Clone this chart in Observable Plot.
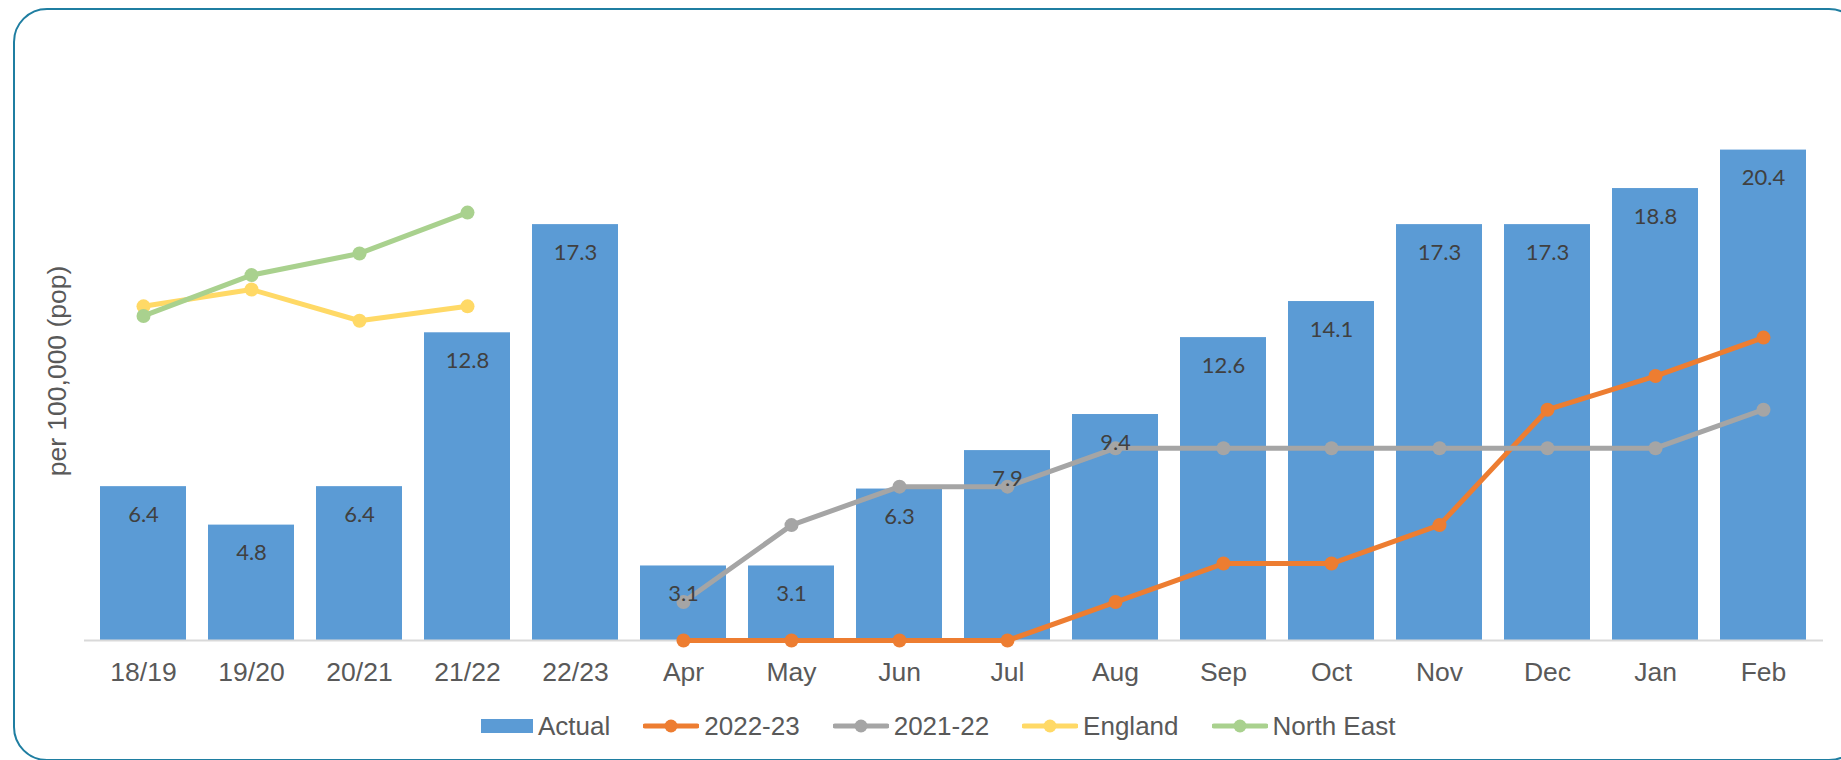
<!DOCTYPE html>
<html>
<head>
<meta charset="utf-8">
<script src="https://cdn.jsdelivr.net/npm/d3@7"></script>
<script src="https://cdn.jsdelivr.net/npm/@observablehq/plot@0.6"></script>
<style>
  html, body { margin: 0; padding: 0; background: #fff; }
  #page { position: relative; width: 1841px; height: 760px; overflow: hidden; font-family: "Liberation Sans", Arial, sans-serif; }
  #frame { position: absolute; left: 13px; top: 8px; width: 1850px; height: 753px; border: 2.5px solid #1f7ea1; border-radius: 34px; box-sizing: border-box; }
  #chart { position: absolute; left: 0; top: 0; }
  #legend { position: absolute; left: 481px; top: 711px; height: 30px; display: flex; align-items: center; font-size: 26px; color: #595959; line-height: 30px; }
  .item { display: flex; align-items: center; margin-right: 33px; }
  .item svg { display: block; margin-right: 5px; }
</style>
</head>
<body>
<div id="page">
  <div id="frame"></div>
  <div id="chart"></div>
  <div id="legend"></div>
</div>
<script>
// ---- data ----
const categories = ["18/19","19/20","20/21","21/22","22/23","Apr","May","Jun","Jul","Aug","Sep","Oct","Nov","Dec","Jan","Feb"];
const actual = [6.4,4.8,6.4,12.8,17.3,3.1,3.1,6.3,7.9,9.4,12.6,14.1,17.3,17.3,18.8,20.4];
const months = ["Apr","May","Jun","Jul","Aug","Sep","Oct","Nov","Dec","Jan","Feb"];
const series2022_23 = [0,0,0,0,1.6,3.2,3.2,4.8,9.6,11.0,12.6];
const series2021_22 = [1.6,4.8,6.4,6.4,8.0,8.0,8.0,8.0,8.0,8.0,9.6];
const years = ["18/19","19/20","20/21","21/22"];
const england = [13.9,14.6,13.3,13.9];
const northEast = [13.5,15.2,16.1,17.8];
const yLabel = "per 100,000 (pop)";

const legendItems = [
  {name: "Actual", color: "#5b9bd5", type: "bar"},
  {name: "2022-23", color: "#ed7d31", type: "line"},
  {name: "2021-22", color: "#a5a5a5", type: "line"},
  {name: "England", color: "#ffd966", type: "line"},
  {name: "North East", color: "#a9d18e", type: "line"}
];

// ---- tables ----
const bars = categories.map((c, i) => ({cat: c, value: actual[i]}));
const s2223 = months.map((m, i) => ({cat: m, value: series2022_23[i]}));
const s2122 = months.map((m, i) => ({cat: m, value: series2021_22[i]}));
const eng = years.map((y, i) => ({cat: y, value: england[i]}));
const ne = years.map((y, i) => ({cat: y, value: northEast[i]}));

const lineSeries = [
  {data: s2223, color: "#ed7d31"},
  {data: s2122, color: "#a5a5a5"},
  {data: eng, color: "#ffd966"},
  {data: ne, color: "#a9d18e"}
];

const marks = [
  Plot.barY(bars, {x: "cat", y: "value", fill: "#5b9bd5"}),
  Plot.ruleY([0], {stroke: "#d9d9d9", strokeWidth: 2})
];
for (const s of lineSeries) {
  marks.push(Plot.line(s.data, {x: "cat", y: "value", stroke: s.color, strokeWidth: 5, strokeLinejoin: "round"}));
  marks.push(Plot.dot(s.data, {x: "cat", y: "value", fill: s.color, r: 7}));
}
marks.push(Plot.text(bars, {x: "cat", y: "value", text: d => d.value.toFixed(1), dy: 28, fill: "#404040", fontFamily: "Lato", fontSize: 22}));
marks.push(Plot.text([yLabel], {frameAnchor: "left", textAnchor: "middle", lineAnchor: "middle", rotate: -90, dx: -27, dy: 31, fill: "#595959", fontSize: 26.5, fontFamily: "Liberation Sans"}));

const chart = Plot.plot({
  width: 1841,
  height: 700,
  marginLeft: 84,
  marginRight: 18,
  marginTop: 39,
  marginBottom: 60,
  x: {type: "band", domain: categories, paddingInner: 0.2, paddingOuter: 0.1, label: null, tickSize: 0, tickPadding: 22},
  y: {domain: [0, 25], axis: null},
  style: {fontFamily: "Liberation Sans", fontSize: "26.5px", color: "#595959", background: "transparent", overflow: "visible"},
  marks
});
document.getElementById("chart").appendChild(chart);

// ---- legend ----
const legend = document.getElementById("legend");
for (const it of legendItems) {
  const div = document.createElement("div");
  div.className = "item";
  let sym;
  if (it.type === "bar") {
    sym = `<svg width="52" height="16"><rect x="0" y="1" width="52" height="14" fill="${it.color}"/></svg>`;
  } else {
    sym = `<svg width="56" height="16"><line x1="2" y1="8" x2="54" y2="8" stroke="${it.color}" stroke-width="5" stroke-linecap="round"/><circle cx="28" cy="8" r="6.5" fill="${it.color}"/></svg>`;
  }
  div.innerHTML = sym + `<span>${it.name}</span>`;
  legend.appendChild(div);
}
</script>
</body>
</html>
